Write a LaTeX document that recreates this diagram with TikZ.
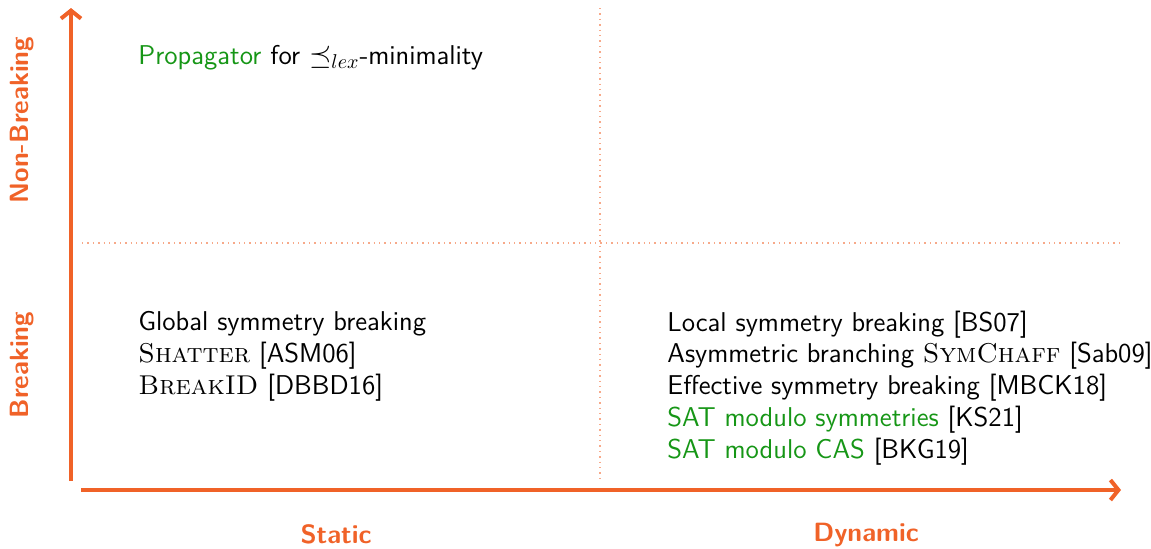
\documentclass[tikz,border=0pt]{standalone}
\usepackage{fontspec}
\usetikzlibrary{arrows.meta,positioning}
\definecolor{axisorange}{RGB}{240,98,40}
\definecolor{propgreen}{RGB}{22,150,22}
\newcommand{\grn}[1]{\textcolor{propgreen}{#1}}
\newcommand{\tool}[1]{\textrm{\textsc{#1}}}

\begin{document}
\begin{tikzpicture}[x=0.5pt,y=-0.5pt,
  axis/.style={line width=2pt,draw=axisorange,-{Straight Barb[length=4pt,width=10pt]}},
  quadline/.style={draw=axisorange!55,dotted,line width=0.7pt},
  axislabel/.style={text=axisorange,font=\sffamily\bfseries\fontsize{13.2}{15}\selectfont},
  entry/.style={anchor=base west,inner sep=0pt,font=\sffamily\fontsize{13.6}{16}\selectfont}]
\useasboundingbox(0,0)rectangle(1151,548);
% axes
\coordinate(y0)at(71,481);\coordinate(y1)at(71,8);
\coordinate(x0)at(81,490);\coordinate(x1)at(1121,490);
\draw[axis](y0)--(y1);
\draw[axis](x0)--(x1);
% quadrants
\coordinate(h0)at(82,243);\coordinate(h1)at(1122,243);
\coordinate(v0)at(600,8);\coordinate(v1)at(600,482);
\draw[quadline](h0)--(h1);
\draw[quadline](v0)--(v1);
% axis labels
\node[axislabel,rotate=90](nonbreak)at(22,120){Non-Breaking};
\node[axislabel,rotate=90](break)at(22,365){Breaking};
\node[axislabel,anchor=base](static)at(336,543){Static};
\node[axislabel,anchor=base](dynamic)at(866,541){Dynamic};
% non-breaking, static
\node[entry](lexmin)at(138,64){\grn{Propagator} for $\preceq_{lex}$-minimality};
% breaking, static
\node[entry](global)at(138,330){Global symmetry breaking};
\node[entry](shatter)at(138,362){\tool{Shatter} [ASM06]};
\node[entry](breakid)at(138,394){\tool{BreakID} [DBBD16]};
% breaking, dynamic
\node[entry](local)at(667,331){Local symmetry breaking [BS07]};
\node[entry](asym)at(667,362){Asymmetric branching \tool{SymChaff} [Sab09]};
\node[entry](effective)at(667,394){Effective symmetry breaking [MBCK18]};
\node[entry](satsym)at(667,426){\grn{SAT modulo symmetries} [KS21]};
\node[entry](satcas)at(667,458){\grn{SAT modulo CAS} [BKG19]};
\end{tikzpicture}
\end{document}
